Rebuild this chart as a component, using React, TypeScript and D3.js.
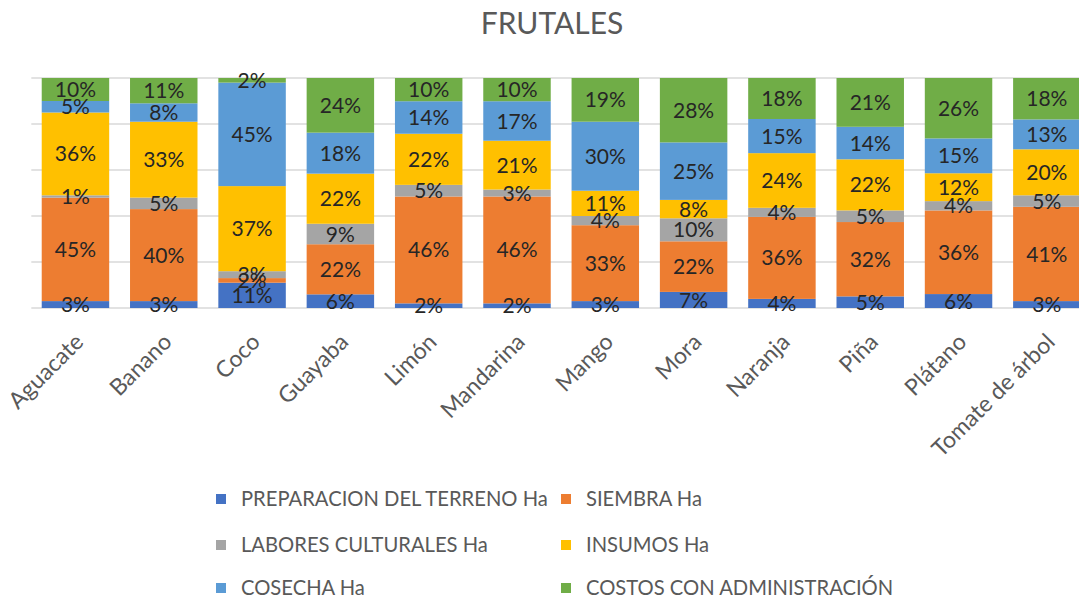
import React, { useEffect, useRef } from "react";
import * as d3 from "d3";

// categories and series (percent of total cost per hectare)
const categories = [
  "Aguacate",
  "Banano",
  "Coco",
  "Guayaba",
  "Limón",
  "Mandarina",
  "Mango",
  "Mora",
  "Naranja",
  "Piña",
  "Plátano",
  "Tomate de árbol"
];
const seriesNames = [
  "PREPARACION DEL TERRENO Ha",
  "SIEMBRA Ha",
  "LABORES CULTURALES Ha",
  "INSUMOS Ha",
  "COSECHA Ha",
  "COSTOS CON ADMINISTRACIÓN"
];
const preparacion = [3, 3, 11, 6, 2, 2, 3, 7, 4, 5, 6, 3];
const siembra = [45, 40, 2, 22, 46, 46, 33, 22, 36, 32, 36, 41];
const labores = [1, 5, 3, 9, 5, 3, 4, 10, 4, 5, 4, 5];
const insumos = [36, 33, 37, 22, 22, 21, 11, 8, 24, 22, 12, 20];
const cosecha = [5, 8, 45, 18, 14, 17, 30, 25, 15, 14, 15, 13];
const costos = [10, 11, 2, 24, 10, 10, 19, 28, 18, 21, 26, 18];
const yTicks = [0, 0.2, 0.4, 0.6, 0.8, 1];

const colors = ["#4472C4", "#ED7D31", "#A5A5A5", "#FFC000", "#5B9BD5", "#70AD47"];
const FONT = "Lato, 'Open Sans', sans-serif";

export default function App() {
  const ref = useRef<SVGSVGElement>(null);

  useEffect(() => {
    const svg = d3.select(ref.current);
    svg.selectAll("*").remove();

    const allSeries = [preparacion, siembra, labores, insumos, cosecha, costos];
    const rows = categories.map((c, i) => {
      const row: any = { cat: c };
      seriesNames.forEach((s, j) => (row[s] = allSeries[j][i]));
      return row;
    });

    const stacked = d3
      .stack()
      .keys(seriesNames)
      .offset(d3.stackOffsetExpand)(rows);

    const x = d3
      .scaleBand()
      .domain(categories)
      .range([31.3, 1091])
      .paddingInner(0.236)
      .paddingOuter(0.118);
    const y = d3.scaleLinear().domain([0, 1]).range([308, 78]);

    // title
    svg
      .append("text")
      .attr("x", 552)
      .attr("y", 34)
      .attr("text-anchor", "middle")
      .style("font-family", FONT)
      .style("font-size", "30px")
      .style("fill", "#595959")
      .text("FRUTALES");

    // gridlines
    svg
      .append("g")
      .selectAll("line")
      .data(yTicks)
      .enter()
      .append("line")
      .attr("x1", 31.3)
      .attr("x2", 1091)
      .attr("y1", d => y(d))
      .attr("y2", d => y(d))
      .attr("stroke", "#D9D9D9")
      .attr("stroke-width", 1.3);

    // bars
    const groups = svg
      .append("g")
      .selectAll("g")
      .data(stacked)
      .enter()
      .append("g")
      .attr("fill", (d, i) => colors[i]);

    groups
      .selectAll("rect")
      .data(d => d)
      .enter()
      .append("rect")
      .attr("x", (d: any) => x(d.data.cat)!)
      .attr("width", x.bandwidth())
      .attr("y", d => y(d[1]))
      .attr("height", d => y(d[0]) - y(d[1]));

    // data labels
    stacked.forEach((s, j) => {
      svg
        .append("g")
        .selectAll("text")
        .data(s)
        .enter()
        .append("text")
        .attr("x", (d: any) => x(d.data.cat)! + x.bandwidth() / 2)
        .attr("y", d => (y(d[0]) + y(d[1])) / 2)
        .attr("dy", "0.36em")
        .attr("text-anchor", "middle")
        .style("font-family", FONT)
        .style("font-size", "21px")
        .style("fill", "#262626")
        .text((d: any, i) => allSeries[j][i] + "%");
    });

    // category labels
    svg
      .append("g")
      .selectAll("text")
      .data(categories)
      .enter()
      .append("text")
      .attr(
        "transform",
        d => `translate(${x(d)! + x.bandwidth() / 2 - 2},${332}) rotate(-45)`
      )
      .attr("text-anchor", "end")
      .attr("dy", "0.7em")
      .style("font-family", FONT)
      .style("font-size", "23px")
      .style("fill", "#595959")
      .text(d => d);

    // legend
    const legendPos = [
      [216, 499],
      [561, 499],
      [216, 545],
      [561, 545],
      [216, 588],
      [561, 588]
    ];
    const legend = svg
      .append("g")
      .selectAll("g")
      .data(seriesNames)
      .enter()
      .append("g")
      .attr("transform", (d, i) => `translate(${legendPos[i][0]},${legendPos[i][1]})`);
    legend
      .append("rect")
      .attr("x", 0)
      .attr("y", -5)
      .attr("width", 10)
      .attr("height", 10)
      .attr("fill", (d, i) => colors[i]);
    legend
      .append("text")
      .attr("x", 25)
      .attr("dy", "0.36em")
      .style("font-family", FONT)
      .style("font-size", "20.2px")
      .style("fill", "#595959")
      .text(d => d);
  }, []);

  return (
    <svg
      ref={ref}
      width={1079}
      height={601}
      style={{ position: "absolute", left: 0, top: 0, background: "#fff" }}
    />
  );
}
